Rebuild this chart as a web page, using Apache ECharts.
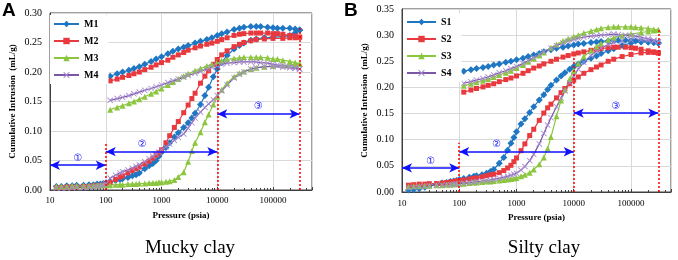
<!DOCTYPE html>
<html><head><meta charset="utf-8">
<script src="https://cdn.jsdelivr.net/npm/echarts@6/dist/echarts.min.js"></script>
<style>html,body{margin:0;padding:0;background:#fff}#c{width:678px;height:260px}</style>
</head><body><div id="c"></div>
<script>
// Pressures (psia)
const intrusionP = [13,16,20,25,30,40,50,60,70,80,90,100,120,150,180,200,250,300,350,400,500,600,700,800,900,1000,1200,1400,1700,2000,2500,3000,3500,4000,5000,6000,7000,8500,10000,12000,15000,20000,25000,30000,40000,50000,70000,100000,150000,200000,250000,300000];
const extrusionP = [300000,250000,200000,150000,120000,100000,80000,60000,50000,40000,30000,25000,20000,15000,12000,10000,8000,6500,5000,4000,3000,2500,2000,1600,1300,1000,800,650,500,400,320,260,200,160,120];

// Mucky clay (mL/g)
const M1_in = [0.006,0.006,0.007,0.007,0.008,0.008,0.009,0.009,0.010,0.010,0.011,0.012,0.014,0.016,0.018,0.019,0.021,0.024,0.026,0.029,0.036,0.041,0.045,0.050,0.057,0.064,0.072,0.080,0.090,0.097,0.106,0.114,0.122,0.130,0.145,0.160,0.174,0.192,0.205,0.216,0.228,0.239,0.245,0.249,0.254,0.256,0.258,0.259,0.260,0.262,0.266,0.271];
const M1_out = [0.271,0.273,0.274,0.274,0.274,0.275,0.276,0.277,0.277,0.277,0.276,0.274,0.272,0.268,0.265,0.262,0.258,0.255,0.252,0.249,0.245,0.242,0.239,0.235,0.231,0.226,0.222,0.218,0.213,0.209,0.206,0.203,0.200,0.197,0.193];
const M2_in = [0.004,0.004,0.005,0.005,0.005,0.006,0.006,0.007,0.007,0.008,0.008,0.009,0.013,0.018,0.022,0.024,0.029,0.033,0.036,0.039,0.044,0.049,0.054,0.059,0.063,0.068,0.080,0.092,0.106,0.116,0.131,0.144,0.155,0.164,0.181,0.193,0.202,0.213,0.221,0.229,0.236,0.243,0.247,0.250,0.253,0.255,0.256,0.257,0.257,0.258,0.258,0.259];
const M2_out = [0.259,0.261,0.262,0.264,0.265,0.265,0.266,0.266,0.266,0.266,0.265,0.264,0.262,0.258,0.255,0.252,0.249,0.247,0.244,0.241,0.237,0.233,0.229,0.225,0.220,0.216,0.212,0.208,0.204,0.200,0.197,0.194,0.191,0.188,0.185];
const M3_in = [0.006,0.006,0.006,0.007,0.007,0.007,0.007,0.007,0.008,0.008,0.008,0.008,0.008,0.009,0.009,0.009,0.010,0.010,0.010,0.011,0.011,0.012,0.012,0.012,0.013,0.013,0.014,0.015,0.017,0.022,0.030,0.048,0.066,0.080,0.098,0.115,0.128,0.145,0.158,0.170,0.181,0.192,0.198,0.201,0.205,0.207,0.209,0.210,0.211,0.212,0.213,0.214];
const M3_out = [0.214,0.216,0.218,0.220,0.222,0.222,0.224,0.225,0.225,0.225,0.225,0.224,0.223,0.221,0.219,0.217,0.213,0.210,0.206,0.202,0.197,0.193,0.188,0.183,0.178,0.172,0.167,0.163,0.158,0.154,0.150,0.147,0.143,0.140,0.136];
const M4_in = [0.003,0.003,0.003,0.004,0.004,0.004,0.005,0.005,0.006,0.007,0.008,0.010,0.020,0.025,0.029,0.031,0.034,0.037,0.040,0.043,0.048,0.053,0.057,0.061,0.064,0.068,0.073,0.078,0.084,0.089,0.095,0.105,0.114,0.122,0.132,0.140,0.146,0.153,0.160,0.168,0.178,0.190,0.196,0.200,0.205,0.207,0.209,0.209,0.208,0.207,0.206,0.205];
const M4_out = [0.205,0.207,0.209,0.211,0.212,0.213,0.215,0.216,0.217,0.217,0.217,0.217,0.216,0.215,0.213,0.211,0.208,0.205,0.201,0.198,0.194,0.191,0.188,0.185,0.182,0.178,0.175,0.172,0.169,0.166,0.163,0.160,0.157,0.155,0.152];

// Silty clay (mL/g)
const S1_in = [0.004,0.005,0.006,0.009,0.012,0.015,0.017,0.018,0.020,0.021,0.022,0.024,0.026,0.028,0.030,0.031,0.033,0.036,0.039,0.043,0.055,0.066,0.080,0.093,0.104,0.115,0.130,0.140,0.152,0.163,0.176,0.186,0.196,0.204,0.214,0.222,0.228,0.235,0.240,0.245,0.250,0.256,0.260,0.265,0.270,0.274,0.280,0.285,0.287,0.287,0.286,0.285];
const S1_out = [0.285,0.286,0.287,0.288,0.289,0.289,0.290,0.290,0.290,0.289,0.288,0.287,0.286,0.284,0.283,0.281,0.279,0.277,0.275,0.272,0.268,0.265,0.262,0.259,0.256,0.253,0.250,0.248,0.245,0.243,0.240,0.238,0.236,0.234,0.231];
const S2_in = [0.013,0.014,0.015,0.015,0.016,0.016,0.017,0.018,0.019,0.020,0.021,0.022,0.023,0.025,0.026,0.027,0.029,0.031,0.033,0.034,0.037,0.041,0.046,0.051,0.058,0.065,0.079,0.092,0.108,0.120,0.137,0.151,0.161,0.168,0.180,0.190,0.198,0.207,0.214,0.220,0.227,0.234,0.239,0.243,0.250,0.254,0.259,0.263,0.266,0.267,0.267,0.266];
const S2_out = [0.266,0.268,0.270,0.273,0.275,0.276,0.277,0.277,0.277,0.276,0.274,0.273,0.271,0.268,0.266,0.264,0.261,0.258,0.254,0.250,0.245,0.241,0.237,0.232,0.227,0.222,0.218,0.215,0.211,0.207,0.204,0.201,0.198,0.195,0.191];
const S3_in = [0.010,0.011,0.011,0.012,0.012,0.013,0.013,0.014,0.014,0.015,0.015,0.016,0.016,0.017,0.018,0.018,0.019,0.020,0.020,0.021,0.022,0.023,0.024,0.025,0.026,0.027,0.030,0.033,0.037,0.043,0.053,0.066,0.083,0.105,0.145,0.175,0.195,0.216,0.232,0.246,0.259,0.270,0.278,0.284,0.291,0.295,0.299,0.302,0.305,0.307,0.309,0.310];
const S3_out = [0.310,0.311,0.313,0.314,0.315,0.316,0.316,0.316,0.316,0.315,0.313,0.311,0.308,0.304,0.300,0.297,0.293,0.289,0.282,0.276,0.267,0.261,0.255,0.249,0.243,0.237,0.232,0.228,0.224,0.220,0.216,0.213,0.210,0.207,0.203];
const S4_in = [0.008,0.009,0.010,0.011,0.012,0.013,0.013,0.014,0.014,0.015,0.015,0.016,0.017,0.018,0.019,0.020,0.021,0.022,0.023,0.024,0.026,0.028,0.030,0.032,0.034,0.036,0.042,0.049,0.060,0.072,0.092,0.112,0.128,0.142,0.163,0.180,0.193,0.209,0.222,0.235,0.248,0.261,0.269,0.275,0.282,0.286,0.289,0.291,0.291,0.290,0.289,0.287];
const S4_out = [0.287,0.290,0.293,0.296,0.298,0.299,0.300,0.301,0.302,0.301,0.300,0.299,0.298,0.296,0.294,0.292,0.289,0.285,0.280,0.275,0.268,0.263,0.257,0.251,0.246,0.240,0.236,0.232,0.228,0.224,0.220,0.217,0.214,0.211,0.208];

// Stage boundaries (psia) and annotation levels
const stageBounds = [10, 100, 10000, 300000];
const stageLabels = ['①', '②', '③'];
const leftArrowY = [0.042, 0.065, 0.129];
const leftDashTop = [0.08, 0.225, 0.275];
const rightArrowY = [0.046, 0.077, 0.151];
const rightDashTop = [0.094, 0.258, 0.313];

const leftNames = ['M1','M2','M3','M4'];
const rightNames = ['S1','S2','S3','S4'];
const colors = ['#1f77c4', '#e8393e', '#8cc63f', '#7b57a8'];
const symColors = ['#1f77c4', '#e8393e', '#8cc63f', '#a58ad0'];
const xPath = 'path://M0,1L1,0L5,4L9,0L10,1L6,5L10,9L9,10L5,6L1,10L0,9L4,5Z';
const symbols = ['diamond', 'rect', 'triangle', xPath];
const symSizes = [7, 5, 6, 6];

const SERIF = 'Liberation Serif, Times New Roman, serif';

function loop(inV, outV) {
  return intrusionP.map((p, i) => [p, inV[i]]).concat(extrusionP.map((p, i) => [p, outV[i]]));
}

function annotations(arrowY, dashTop, stage2Shift) {
  const data = [];
  for (let i = 0; i < 3; i++) {
    const lab = { show: true, formatter: stageLabels[i], position: 'insideMiddleTop', distance: 2,
                  color: '#1010ff', fontSize: 10, fontFamily: 'DejaVu Sans' };
    if (i === 1) { lab.position = 'insideStartTop'; lab.distance = [stage2Shift, 2]; }
    data.push([
      { coord: [stageBounds[i], arrowY[i]], symbol: 'arrow',
        lineStyle: { color: '#1010ff', width: 1.5, type: 'solid' }, label: lab },
      { coord: [stageBounds[i + 1], arrowY[i]], symbol: 'arrow' }
    ]);
  }
  for (let i = 1; i < 4; i++) {
    data.push([
      { coord: [stageBounds[i], 0], symbol: 'none',
        lineStyle: { color: '#ff0000', width: 1.5, type: [2, 2] }, label: { show: false } },
      { coord: [stageBounds[i], dashTop[i - 1]], symbol: 'none' }
    ]);
  }
  return { silent: true, animation: false, symbol: ['arrow', 'arrow'], symbolSize: [7, 10],
           label: { show: false }, data: data };
}

const leftData = [loop(M1_in, M1_out), loop(M2_in, M2_out), loop(M3_in, M3_out), loop(M4_in, M4_out)];
const rightData = [loop(S1_in, S1_out), loop(S2_in, S2_out), loop(S3_in, S3_out), loop(S4_in, S4_out)];

const series = [];
[leftData, rightData].forEach((set, g) => {
  set.forEach((d, i) => {
    const s = {
      name: (g === 0 ? leftNames : rightNames)[i],
      type: 'line', xAxisIndex: g, yAxisIndex: g, data: d,
      symbol: symbols[i], symbolSize: symSizes[i], showSymbol: true, showAllSymbol: true,
      lineStyle: { color: colors[i], width: 1.2 },
      itemStyle: { color: symColors[i], borderWidth: 0 },
      animation: false, z: 3
    };
    if (i === 0) s.markLine = g === 0 ? annotations(leftArrowY, leftDashTop, 32) : annotations(rightArrowY, rightDashTop, 33);
    series.push(s);
  });
});

function xAxis(g, gap, margin) {
  return {
    type: 'log', logBase: 10, gridIndex: g, min: 10, max: 500000,
    name: 'Pressure (psia)', nameLocation: 'middle', nameGap: gap,
    nameTextStyle: { fontFamily: SERIF, fontWeight: 'bold', fontSize: 9, color: '#000' },
    axisLine: { show: true, lineStyle: { color: '#404040', width: 1 } },
    axisTick: { show: true, inside: true, length: 3, lineStyle: { color: '#404040' } },
    minorTick: { show: true, splitNumber: 9, length: 2, lineStyle: { color: '#404040' } },
    splitLine: { show: true, lineStyle: { color: '#d9d9d9', width: 1 } },
    axisLabel: { fontFamily: SERIF, fontSize: 9, color: '#000', margin: margin, showMaxLabel: false,
                 formatter: v => String(Math.round(v)) }
  };
}
function yAxis(g, max, gap) {
  return {
    type: 'value', gridIndex: g, min: 0, max: max, interval: 0.05,
    name: 'Cumulative Intrusion  (mL/g)', nameLocation: 'middle', nameGap: gap,
    nameTextStyle: { fontFamily: SERIF, fontWeight: 'bold', fontSize: 9, color: '#000' },
    axisLine: { show: true, lineStyle: { color: '#404040', width: 1 } },
    axisTick: { show: false },
    splitLine: { show: true, lineStyle: { color: '#d9d9d9', width: 1 } },
    axisLabel: { fontFamily: SERIF, fontSize: 10, color: '#000', margin: 8, formatter: v => v.toFixed(2) }
  };
}
function legend(names, left, top, w) {
  return {
    data: names, orient: 'vertical', left: left, top: top, itemWidth: w, itemHeight: 8, itemGap: 7,
    backgroundColor: '#fff', padding: [4, 10, 4, 3],
    textStyle: { fontFamily: SERIF, fontWeight: 'bold', fontSize: 10, color: '#000' }
  };
}

const chart = echarts.init(document.getElementById('c'), null, { renderer: 'canvas' });
chart.setOption({
  animation: false,
  backgroundColor: '#fff',
  grid: [
    { left: 50, top: 13, width: 262, height: 177, show: true, borderColor: '#404040', borderWidth: 1, backgroundColor: 'transparent' },
    { left: 402, top: 9, width: 269, height: 183, show: true, borderColor: '#404040', borderWidth: 1, backgroundColor: 'transparent' }
  ],
  xAxis: [xAxis(0, 21, 6), xAxis(1, 20, 7)],
  yAxis: [yAxis(0, 0.30, 33), yAxis(1, 0.35, 33)],
  legend: [legend(leftNames, 50, 15, 25), legend(rightNames, 403, 13, 29)],
  series: series,
  graphic: [
    { type: 'text', left: 2, top: 1, style: { text: 'A', font: 'bold 19px Liberation Sans, Arial, sans-serif', fill: '#000' } },
    { type: 'text', left: 344, top: 1, style: { text: 'B', font: 'bold 19px Liberation Sans, Arial, sans-serif', fill: '#000' } },
    { type: 'text', x: 190, y: 248, style: { text: 'Mucky clay', font: '19px Liberation Serif, serif', fill: '#000', align: 'center', verticalAlign: 'middle' } },
    { type: 'text', x: 544, y: 248, style: { text: 'Silty clay', font: '19px Liberation Serif, serif', fill: '#000', align: 'center', verticalAlign: 'middle' } }
  ]
});
</script></body></html>
